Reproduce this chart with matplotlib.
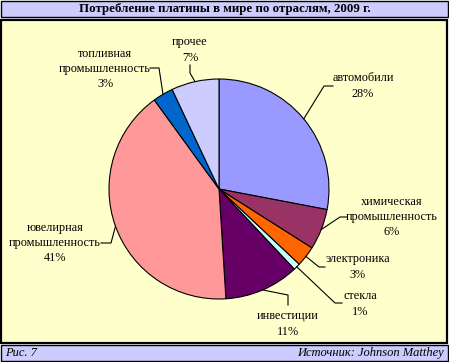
import matplotlib
matplotlib.use("Agg")
import matplotlib.pyplot as plt
import numpy as np
from matplotlib.patches import Rectangle

plt.rcParams['font.family'] = ['Liberation Serif', 'DejaVu Serif']

# data
labels = ['автомобили', 'химическая\nпромышленность', 'электроника', 'стекла',
          'инвестиции', 'ювелирная\nпромышленность', 'топливная\nпромышленность', 'прочее']
shares = [28, 6, 3, 1, 11, 41, 3, 7]
colors = ['#9999FF', '#993366', '#FF6600', '#CCFFFF',
          '#660066', '#FF9999', '#0066CC', '#CCCCFF']

title = 'Потребление платины в мире по отраслям, 2009 г.'
fig_note = 'Рис. 7'
source = 'Источник: Johnson Matthey'

W, H = 449, 362
fig = plt.figure(figsize=(W / 100, H / 100), dpi=100)
fig.patch.set_facecolor('white')

# background frame in pixel coordinates
bg = fig.add_axes([0, 0, 1, 1])
bg.set_xlim(0, W)
bg.set_ylim(H, 0)
bg.axis('off')
bg.add_patch(Rectangle((0.5, 0.5), 447, 16.5, facecolor='#CCCCFF', edgecolor='black', lw=1))
bg.add_patch(Rectangle((1, 19.5), 446, 323, facecolor='#FFFFCC', edgecolor='black', lw=1.6))
bg.add_patch(Rectangle((0.5, 344.5), 447.5, 16.5, facecolor='#CCCCFF', edgecolor='black', lw=1))
bg.text(W / 2, 9, title, ha='center', va='center', fontsize=9.3, fontweight='bold')
bg.text(5, 353, fig_note, ha='left', va='center', fontsize=9, style='italic')
bg.text(444, 353, source, ha='right', va='center', fontsize=9, style='italic')

# pie: center (219, 189) px, radius 110 px
cx, cy, r = 219, 189, 110
ax = fig.add_axes([(cx - r) / W, (H - cy - r) / H, 2 * r / W, 2 * r / H])
ax.pie(shares, colors=colors, startangle=90, counterclock=False, radius=1,
       wedgeprops=dict(edgecolor='black', linewidth=0.8))
ax.set_xlim(-1, 1)
ax.set_ylim(-1, 1)
ax.axis('off')


def px(x, y):
    return ((x - cx) / r, (cy - y) / r)


# label layout: text centre, elbow, line end (pixels)
layout = [
    ((363, 86), (324, 86), (333, 86)),
    ((392, 217), (340, 217), (347, 217)),
    ((358, 267), (319, 267), (325, 267)),
    ((360, 304), (335, 303), (342, 303)),
    ((288, 324), (288, 295), (288, 305)),
    ((55, 243), (111, 243), (101, 243)),
    ((105, 69), (159, 68), (150, 68)),
    ((190, 50), (190, 73), (190, 65)),
]

cum = np.cumsum([0] + shares[:-1])
for lab, s, c0, (tpos, elbow, end) in zip(labels, shares, cum, layout):
    mid = np.deg2rad(90 - (c0 + s / 2) * 3.6)
    ex, ey = np.cos(mid), np.sin(mid)
    bx, by = px(*elbow)
    qx, qy = px(*end)
    ax.plot([ex, bx, qx], [ey, by, qy], color='black', lw=0.8, clip_on=False)
    tx, ty = px(*tpos)
    ax.text(tx, ty, f'{lab}\n{s}%', ha='center', va='center', fontsize=8.8,
            linespacing=1.35, clip_on=False)

fig.savefig('out.png', dpi=100)
